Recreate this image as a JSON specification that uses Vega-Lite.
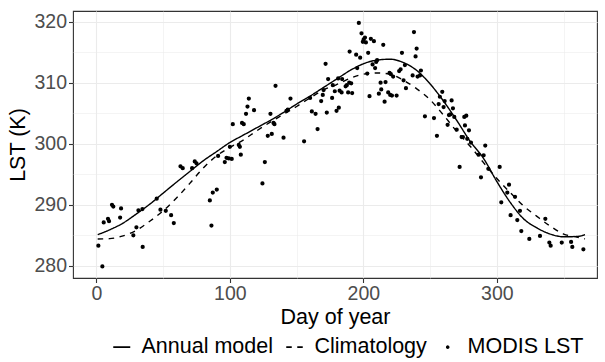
{
  "$schema": "https://vega.github.io/schema/vega-lite/v6.json",
  "width": 524,
  "height": 267,
  "autosize": {"type": "none"},
  "padding": {"left": 73, "top": 11, "right": 8, "bottom": 84},
  "config": {
    "font": "Liberation Sans",
    "view": {"stroke": "#333333", "strokeWidth": 1.1},
    "axis": {
      "labelFont": "Liberation Sans",
      "titleFont": "Liberation Sans",
      "labelFontSize": 19.5,
      "labelColor": "#4D4D4D",
      "titleFontSize": 21.5,
      "titleFontWeight": "normal",
      "titleColor": "#000000",
      "domain": false,
      "tickColor": "#333333",
      "tickSize": 4.5,
      "tickWidth": 1.1,
      "labelPadding": 2,
      "gridColor": "#EBEBEB"
    },
    "legend": {
      "labelFont": "Liberation Sans",
      "labelFontSize": 21.5,
      "labelColor": "#000000",
      "symbolFillColor": "#000000",
      "symbolStrokeColor": "#000000"
    }
  },
  "datasets": {
    "points": [
      {"day": 1.5, "lst": 283.3}, {"day": 4.5, "lst": 279.9}, {"day": 5.5, "lst": 287.1}, {"day": 8.7, "lst": 287.7},
      {"day": 9.5, "lst": 287.3}, {"day": 11.7, "lst": 290.0}, {"day": 12.7, "lst": 289.7}, {"day": 17.8, "lst": 287.9},
      {"day": 18.5, "lst": 289.4}, {"day": 27.7, "lst": 285.0}, {"day": 30.0, "lst": 286.3}, {"day": 31.5, "lst": 289.1},
      {"day": 34.5, "lst": 289.3}, {"day": 34.7, "lst": 283.1}, {"day": 45.2, "lst": 291.0}, {"day": 48.0, "lst": 289.2},
      {"day": 52.0, "lst": 289.0}, {"day": 56.0, "lst": 288.3}, {"day": 58.0, "lst": 287.0}, {"day": 63.0, "lst": 296.3},
      {"day": 64.7, "lst": 296.0}, {"day": 71.7, "lst": 296.0}, {"day": 73.7, "lst": 297.1}, {"day": 75.0, "lst": 296.8},
      {"day": 85.0, "lst": 290.7}, {"day": 86.2, "lst": 286.6}, {"day": 87.2, "lst": 292.0}, {"day": 90.2, "lst": 292.5},
      {"day": 91.2, "lst": 298.0}, {"day": 96.2, "lst": 297.0}, {"day": 97.5, "lst": 297.7}, {"day": 99.2, "lst": 297.6},
      {"day": 101.4, "lst": 297.5}, {"day": 100.0, "lst": 299.5}, {"day": 102.2, "lst": 303.2}, {"day": 106.7, "lst": 299.8},
      {"day": 107.5, "lst": 299.5}, {"day": 108.2, "lst": 298.2}, {"day": 109.1, "lst": 303.4}, {"day": 110.4, "lst": 303.2}, {"day": 112.1, "lst": 304.9},
      {"day": 113.2, "lst": 306.1}, {"day": 114.2, "lst": 307.4}, {"day": 118.1, "lst": 305.5}, {"day": 124.4, "lst": 293.5},
      {"day": 126.2, "lst": 297.0}, {"day": 128.4, "lst": 301.3}, {"day": 130.4, "lst": 304.9}, {"day": 131.4, "lst": 301.6},
      {"day": 132.7, "lst": 303.4}, {"day": 133.4, "lst": 303.2}, {"day": 134.2, "lst": 309.5}, {"day": 140.2, "lst": 301.0},
      {"day": 142.4, "lst": 305.4}, {"day": 143.4, "lst": 305.6}, {"day": 145.4, "lst": 307.4}, {"day": 155.6, "lst": 300.4},
      {"day": 160.1, "lst": 307.5}, {"day": 161.4, "lst": 305.3}, {"day": 164.2, "lst": 304.9}, {"day": 165.7, "lst": 302.4},
      {"day": 168.4, "lst": 307.0}, {"day": 169.6, "lst": 308.0}, {"day": 170.2, "lst": 308.8}, {"day": 171.7, "lst": 313.1},
      {"day": 172.6, "lst": 305.1}, {"day": 173.6, "lst": 310.6}, {"day": 176.6, "lst": 307.5}, {"day": 177.1, "lst": 309.6},
      {"day": 178.6, "lst": 308.6}, {"day": 179.9, "lst": 305.4}, {"day": 181.6, "lst": 305.9}, {"day": 181.1, "lst": 310.7},
      {"day": 182.2, "lst": 308.7}, {"day": 183.7, "lst": 308.4}, {"day": 184.1, "lst": 310.6}, {"day": 186.7, "lst": 309.4},
      {"day": 187.6, "lst": 309.6}, {"day": 188.6, "lst": 308.4}, {"day": 189.4, "lst": 310.0}, {"day": 189.7, "lst": 315.1},
      {"day": 190.9, "lst": 309.9}, {"day": 191.6, "lst": 308.3}, {"day": 194.6, "lst": 314.6}, {"day": 195.4, "lst": 312.4},
      {"day": 196.6, "lst": 319.8}, {"day": 197.6, "lst": 314.1}, {"day": 198.6, "lst": 318.1}, {"day": 199.6, "lst": 316.7},
      {"day": 200.2, "lst": 317.1}, {"day": 201.2, "lst": 317.4}, {"day": 201.9, "lst": 316.6}, {"day": 202.9, "lst": 311.5},
      {"day": 203.6, "lst": 314.9}, {"day": 204.6, "lst": 307.8}, {"day": 205.6, "lst": 317.2}, {"day": 206.9, "lst": 313.0},
      {"day": 207.9, "lst": 316.8}, {"day": 208.8, "lst": 312.4}, {"day": 209.6, "lst": 313.4}, {"day": 210.3, "lst": 313.7},
      {"day": 211.6, "lst": 308.2}, {"day": 212.9, "lst": 310.0}, {"day": 213.4, "lst": 308.9}, {"day": 214.9, "lst": 316.2},
      {"day": 215.9, "lst": 306.9}, {"day": 216.6, "lst": 310.1}, {"day": 218.6, "lst": 308.4}, {"day": 219.6, "lst": 311.6},
      {"day": 220.1, "lst": 308.0}, {"day": 220.6, "lst": 311.4}, {"day": 221.4, "lst": 307.9}, {"day": 222.3, "lst": 311.0},
      {"day": 224.9, "lst": 307.9}, {"day": 226.8, "lst": 311.9}, {"day": 227.9, "lst": 312.2}, {"day": 228.9, "lst": 314.9},
      {"day": 230.1, "lst": 310.4}, {"day": 231.1, "lst": 312.9}, {"day": 231.9, "lst": 309.1}, {"day": 236.9, "lst": 311.2},
      {"day": 237.9, "lst": 318.3}, {"day": 239.1, "lst": 314.3}, {"day": 239.9, "lst": 315.6}, {"day": 240.6, "lst": 311.0},
      {"day": 242.4, "lst": 311.2}, {"day": 243.1, "lst": 312.0}, {"day": 246.1, "lst": 304.5}, {"day": 252.9, "lst": 304.2},
      {"day": 255.1, "lst": 301.3}, {"day": 256.4, "lst": 306.5}, {"day": 257.3, "lst": 307.7}, {"day": 259.1, "lst": 308.5},
      {"day": 260.1, "lst": 306.0}, {"day": 260.9, "lst": 307.0}, {"day": 263.1, "lst": 303.1}, {"day": 264.1, "lst": 304.7},
      {"day": 265.1, "lst": 304.8}, {"day": 266.1, "lst": 307.1}, {"day": 267.1, "lst": 305.8}, {"day": 268.1, "lst": 304.4},
      {"day": 269.9, "lst": 302.3}, {"day": 272.1, "lst": 296.2}, {"day": 273.6, "lst": 301.1}, {"day": 274.6, "lst": 301.1},
      {"day": 275.6, "lst": 304.4}, {"day": 276.1, "lst": 303.0}, {"day": 277.1, "lst": 304.6}, {"day": 277.8, "lst": 300.8},
      {"day": 279.1, "lst": 302.2}, {"day": 280.6, "lst": 300.2}, {"day": 286.4, "lst": 298.2}, {"day": 288.1, "lst": 294.5},
      {"day": 290.1, "lst": 298.1}, {"day": 291.3, "lst": 299.7}, {"day": 293.6, "lst": 295.9}, {"day": 302.1, "lst": 296.2},
      {"day": 303.3, "lst": 290.4}, {"day": 307.8, "lst": 292.0}, {"day": 309.1, "lst": 293.3}, {"day": 310.3, "lst": 288.3},
      {"day": 313.6, "lst": 291.3}, {"day": 315.3, "lst": 287.5}, {"day": 317.3, "lst": 289.0}, {"day": 318.3, "lst": 285.7},
      {"day": 324.3, "lst": 284.4}, {"day": 332.3, "lst": 284.9}, {"day": 336.3, "lst": 287.7}, {"day": 339.3, "lst": 283.8},
      {"day": 340.3, "lst": 283.3}, {"day": 348.6, "lst": 283.8}, {"day": 355.6, "lst": 283.9}, {"day": 356.5, "lst": 283.1},
      {"day": 364.8, "lst": 282.7}
    ],
    "curves": [
      {"day": 1, "lst": 285.1, "series": "Annual model"}, {"day": 10, "lst": 285.9, "series": "Annual model"},
      {"day": 20, "lst": 287.0, "series": "Annual model"}, {"day": 30, "lst": 288.5, "series": "Annual model"},
      {"day": 40, "lst": 290.1, "series": "Annual model"}, {"day": 50, "lst": 291.9, "series": "Annual model"},
      {"day": 60, "lst": 293.7, "series": "Annual model"}, {"day": 70, "lst": 295.45, "series": "Annual model"},
      {"day": 80, "lst": 297.2, "series": "Annual model"}, {"day": 90, "lst": 298.7, "series": "Annual model"},
      {"day": 100, "lst": 300.2, "series": "Annual model"}, {"day": 110, "lst": 301.4, "series": "Annual model"},
      {"day": 120, "lst": 302.6, "series": "Annual model"}, {"day": 130, "lst": 303.8, "series": "Annual model"},
      {"day": 140, "lst": 305.1, "series": "Annual model"}, {"day": 150, "lst": 306.5, "series": "Annual model"},
      {"day": 160, "lst": 307.8, "series": "Annual model"}, {"day": 170, "lst": 309.2, "series": "Annual model"},
      {"day": 180, "lst": 310.6, "series": "Annual model"}, {"day": 190, "lst": 312.0, "series": "Annual model"},
      {"day": 200, "lst": 313.1, "series": "Annual model"}, {"day": 210, "lst": 313.7, "series": "Annual model"},
      {"day": 220, "lst": 313.85, "series": "Annual model"}, {"day": 230, "lst": 313.3, "series": "Annual model"},
      {"day": 240, "lst": 312.0, "series": "Annual model"}, {"day": 250, "lst": 309.8, "series": "Annual model"},
      {"day": 260, "lst": 307.0, "series": "Annual model"}, {"day": 270, "lst": 303.8, "series": "Annual model"},
      {"day": 280, "lst": 300.4, "series": "Annual model"}, {"day": 290, "lst": 297.6, "series": "Annual model"},
      {"day": 300, "lst": 293.8, "series": "Annual model"}, {"day": 310, "lst": 290.4, "series": "Annual model"},
      {"day": 320, "lst": 287.7, "series": "Annual model"}, {"day": 330, "lst": 286.2, "series": "Annual model"},
      {"day": 340, "lst": 285.2, "series": "Annual model"}, {"day": 350, "lst": 284.75, "series": "Annual model"},
      {"day": 360, "lst": 284.8, "series": "Annual model"}, {"day": 366, "lst": 285.1, "series": "Annual model"},
      {"day": 1, "lst": 284.4, "series": "Climatology"}, {"day": 10, "lst": 284.45, "series": "Climatology"},
      {"day": 20, "lst": 284.9, "series": "Climatology"}, {"day": 30, "lst": 285.8, "series": "Climatology"},
      {"day": 40, "lst": 287.3, "series": "Climatology"}, {"day": 50, "lst": 289.0, "series": "Climatology"},
      {"day": 60, "lst": 291.1, "series": "Climatology"}, {"day": 70, "lst": 293.5, "series": "Climatology"},
      {"day": 80, "lst": 296.0, "series": "Climatology"}, {"day": 90, "lst": 298.0, "series": "Climatology"},
      {"day": 100, "lst": 299.4, "series": "Climatology"}, {"day": 110, "lst": 300.6, "series": "Climatology"},
      {"day": 120, "lst": 302.1, "series": "Climatology"}, {"day": 130, "lst": 303.5, "series": "Climatology"},
      {"day": 140, "lst": 304.8, "series": "Climatology"}, {"day": 150, "lst": 306.1, "series": "Climatology"},
      {"day": 160, "lst": 307.5, "series": "Climatology"}, {"day": 170, "lst": 308.8, "series": "Climatology"},
      {"day": 180, "lst": 309.7, "series": "Climatology"}, {"day": 190, "lst": 310.7, "series": "Climatology"},
      {"day": 200, "lst": 311.4, "series": "Climatology"}, {"day": 210, "lst": 311.6, "series": "Climatology"},
      {"day": 220, "lst": 311.4, "series": "Climatology"}, {"day": 230, "lst": 310.4, "series": "Climatology"},
      {"day": 240, "lst": 309.0, "series": "Climatology"}, {"day": 250, "lst": 307.2, "series": "Climatology"},
      {"day": 260, "lst": 304.7, "series": "Climatology"}, {"day": 270, "lst": 302.0, "series": "Climatology"},
      {"day": 280, "lst": 299.6, "series": "Climatology"}, {"day": 290, "lst": 296.9, "series": "Climatology"},
      {"day": 300, "lst": 294.3, "series": "Climatology"}, {"day": 310, "lst": 292.0, "series": "Climatology"},
      {"day": 320, "lst": 289.8, "series": "Climatology"}, {"day": 330, "lst": 288.1, "series": "Climatology"},
      {"day": 340, "lst": 286.5, "series": "Climatology"}, {"day": 350, "lst": 285.2, "series": "Climatology"},
      {"day": 360, "lst": 284.7, "series": "Climatology"}, {"day": 366, "lst": 284.4, "series": "Climatology"}
    ]
  },
  "encoding": {
    "x": {
      "field": "day", "type": "quantitative", "title": "Day of year",
      "scale": {"domain": [-17.5, 375], "nice": false, "zero": false},
      "axis": {
        "values": [0, 50, 100, 150, 200, 250, 300, 350],
        "labelExpr": "datum.value % 100 === 0 ? datum.label : ''",
        "tickOpacity": {"condition": {"test": "datum.value % 100 === 0", "value": 1}, "value": 0},
        "gridWidth": {"condition": {"test": "datum.value % 100 === 0", "value": 1.1}, "value": 0.55},
        "labelFlush": false,
        "labelOverlap": false,
        "titlePadding": 3
      }
    },
    "y": {
      "field": "lst", "type": "quantitative", "title": "LST (K)",
      "scale": {"domain": [278.0, 321.75], "nice": false, "zero": false},
      "axis": {
        "values": [280, 285, 290, 295, 300, 305, 310, 315, 320],
        "labelExpr": "datum.value % 10 === 0 ? datum.label : ''",
        "tickOpacity": {"condition": {"test": "datum.value % 10 === 0", "value": 1}, "value": 0},
        "gridWidth": {"condition": {"test": "datum.value % 10 === 0", "value": 1.1}, "value": 0.55},
        "labelFlush": false,
        "labelOverlap": false,
        "titlePadding": 4
      }
    }
  },
  "layer": [
    {
      "data": {"name": "curves"},
      "mark": {"type": "line", "color": "#000000", "strokeWidth": 1.4, "interpolate": "monotone"},
      "encoding": {
        "detail": {"field": "series"},
        "strokeDash": {
          "field": "series", "type": "nominal",
          "scale": {"domain": ["Annual model", "Climatology", "MODIS LST"], "range": [[1, 0], [5.5, 5.5], [1, 0]]},
          "legend": {
            "title": null, "orient": "none", "direction": "horizontal",
            "legendX": 38, "legendY": 325,
            "symbolSize": 289, "labelOffset": 9, "columnPadding": 10,
            "symbolFillColor": "#000000", "symbolStrokeColor": "#000000", "symbolStrokeWidth": 1.4,
            "encode": {"symbols": {"update": {"stroke": {"value": "#000000"}, "fill": {"value": "#000000"}, "fillOpacity": {"value": 1}, "strokeOpacity": {"value": 1}, "strokeWidth": {"value": 1.6}, "opacity": {"value": 1}}}}
          }
        }
      }
    },
    {
      "data": {"name": "points"},
      "transform": [{"calculate": "'MODIS LST'", "as": "series"}],
      "mark": {"type": "point", "filled": true, "color": "#000000", "stroke": "#000000", "strokeWidth": 2.2, "opacity": 1, "size": 289},
      "encoding": {
        "shape": {
          "field": "series", "type": "nominal",
          "scale": {"domain": ["Annual model", "Climatology", "MODIS LST"], "range": ["stroke", "stroke", "M-0.12,0A0.12,0.12,0,1,1,0.12,0A0.12,0.12,0,1,1,-0.12,0Z"]},
          "legend": {
            "title": null, "orient": "none", "direction": "horizontal",
            "legendX": 38, "legendY": 325,
            "symbolSize": 289, "labelOffset": 9, "columnPadding": 10,
            "symbolFillColor": "#000000", "symbolStrokeColor": "#000000", "symbolStrokeWidth": 1.4,
            "encode": {"symbols": {"update": {"stroke": {"value": "#000000"}, "fill": {"value": "#000000"}, "fillOpacity": {"value": 1}, "strokeOpacity": {"value": 1}, "strokeWidth": {"value": 1.6}, "opacity": {"value": 1}}}}
          }
        }
      }
    }
  ]
}
